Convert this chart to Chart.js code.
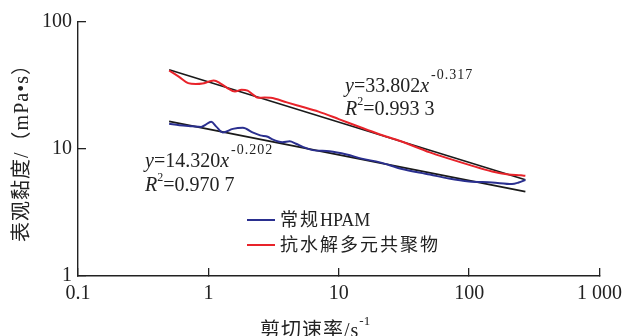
<!DOCTYPE html>
<html><head><meta charset="utf-8">
<script src="https://cdn.jsdelivr.net/npm/chart.js@4"></script>
<style>html,body{margin:0;padding:0;background:#fff}#wrap{width:623px;height:336px;position:relative}</style>
</head><body><div id="wrap"><canvas id="c" width="623" height="336"></canvas></div>
<script>
// ---- data ----
const seriesNames = ['常规HPAM', '抗水解多元共聚物'];
const hpamX = [0.5, 0.6, 0.75, 0.88, 0.95, 1.05, 1.15, 1.29, 1.54, 1.84, 2.18, 2.5, 2.85, 3.1, 3.7, 4.2, 4.7, 5.3, 6.3, 8.5, 11.5, 15, 20.7, 30, 50, 70, 100, 150, 213, 240, 270];
const hpamY = [15.8, 15.4, 15.1, 14.9, 15.5, 16.4, 15.0, 13.5, 14.4, 14.7, 13.5, 12.8, 12.5, 11.9, 11.3, 11.5, 11.0, 10.4, 9.8, 9.6, 9.06, 8.4, 7.85, 7.0, 6.3, 5.85, 5.55, 5.45, 5.3, 5.45, 5.7];
const copolyX = [0.5, 0.6, 0.7, 0.8, 0.9, 1.0, 1.1, 1.25, 1.4, 1.6, 1.8, 2.0, 2.2, 2.4, 2.7, 3, 4, 5, 7, 10, 15, 20, 30, 50, 70, 100, 150, 200, 250, 270];
const copolyY = [41.5, 36.8, 33.0, 32.5, 32.8, 33.8, 34.7, 32.6, 30.2, 28.4, 29.3, 28.8, 26.8, 25.3, 25.4, 25.3, 23.3, 21.8, 19.7, 17.2, 14.7, 13.2, 11.5, 9.4, 8.4, 7.5, 6.65, 6.3, 6.2, 6.15];
const fitX = [0.5, 270];
const hpamFitY = [16.5, 4.62];
const copolyFitY = [42.1, 5.73];
const xTickValues = [0.1, 1, 10, 100, 1000];
const xTickLabels = ['0.1', '1', '10', '100', '1 000'];
const yTickValues = [1, 10, 100];
const yTickLabels = ['1', '10', '100'];
const hpamEq = {coef: '14.320', exp: '-0.202', r2: '0.970 7'};
const copolyEq = {coef: '33.802', exp: '-0.317', r2: '0.993 3'};
const xTitle = '剪切速率/s', xTitleSup = '-1';
const yTitle = '表观黏度/（mPa•s）';

const BLUE = '#2a2f8f', RED = '#e8232a', INK = '#222';
const SERIF = "'Liberation Serif', 'Times New Roman', serif";
const CJK = "'Liberation Serif', 'Noto Sans CJK SC', sans-serif";

const pts = (xs, ys) => xs.map((x, i) => ({x: x, y: ys[i]}));

function drawEq(ctx, x, y, eq) {
  ctx.fillStyle = INK; ctx.textAlign = 'left'; ctx.textBaseline = 'alphabetic';
  let cx = x;
  ctx.font = 'italic 20px ' + SERIF; ctx.fillText('y', cx, y); cx += ctx.measureText('y').width;
  ctx.font = '20px ' + SERIF; const t = '=' + eq.coef; ctx.fillText(t, cx, y); cx += ctx.measureText(t).width;
  ctx.font = 'italic 20px ' + SERIF; ctx.fillText('x', cx, y); cx += ctx.measureText('x').width + 2;
  ctx.font = '14px ' + SERIF; ctx.letterSpacing = '1px'; ctx.fillText(eq.exp, cx, y - 13); ctx.letterSpacing = '0px';
  const y2 = y + 23.5; cx = x;
  ctx.font = 'italic 20px ' + SERIF; ctx.fillText('R', cx, y2); cx += ctx.measureText('R').width;
  ctx.font = '12px ' + SERIF; ctx.fillText('2', cx, y2 - 10); cx += ctx.measureText('2').width;
  ctx.font = '20px ' + SERIF; ctx.fillText('=' + eq.r2, cx, y2);
}

function drawMixed(ctx, text, x, y) {
  // CJK characters with slight letter spacing, latin tight
  let cx = x;
  const parts = text.match(/[\u3000-\u9fff\uff00-\uffef]+|[^\u3000-\u9fff\uff00-\uffef]+/g) || [];
  parts.forEach(p => {
    const isCJK = /[\u3000-\u9fff]/.test(p);
    ctx.letterSpacing = isCJK ? '2px' : '0px';
    ctx.fillText(p, cx, y);
    cx += ctx.measureText(p).width;
  });
  ctx.letterSpacing = '0px';
  return cx - x;
}

const textPlugin = {
  id: 'texts',
  afterDraw(chart) {
    const ctx = chart.ctx;
    ctx.save();
    drawEq(ctx, 345, 91.5, copolyEq);
    drawEq(ctx, 145, 167, hpamEq);
    // legend
    const lg = [[BLUE, seriesNames[0], 220], [RED, seriesNames[1], 245]];
    lg.forEach(([c, name, yy]) => {
      ctx.strokeStyle = c; ctx.lineWidth = 2;
      ctx.beginPath(); ctx.moveTo(247, yy); ctx.lineTo(275, yy); ctx.stroke();
      ctx.fillStyle = INK; ctx.font = '18px ' + CJK; ctx.textAlign = 'left'; ctx.textBaseline = 'middle';
      drawMixed(ctx, name, 280, yy + 1);
    });
    // y title
    ctx.save();
    ctx.translate(23, 148); ctx.rotate(-Math.PI / 2);
    ctx.font = '20px ' + CJK; ctx.textAlign = 'center'; ctx.textBaseline = 'middle'; ctx.fillStyle = INK;
    ctx.letterSpacing = '1px';
    ctx.fillText(yTitle, 0, 0);
    ctx.letterSpacing = '0px';
    ctx.restore();
    // x title
    ctx.font = '20px ' + CJK; ctx.textAlign = 'left'; ctx.textBaseline = 'alphabetic'; ctx.fillStyle = INK;
    ctx.letterSpacing = '1px'; ctx.fillText(xTitle, 260, 337); const w = ctx.measureText(xTitle).width; ctx.letterSpacing = '0px';
    ctx.font = '13px ' + SERIF; ctx.fillText(xTitleSup, 260 + w, 325);
    ctx.restore();
  }
};

function zeroPad(s) { s.paddingLeft = 0; s.paddingRight = 0; s.paddingTop = 0; s.paddingBottom = 0; }

new Chart(document.getElementById('c'), {
  type: 'line',
  data: {
    datasets: [
      {label: seriesNames[0], data: pts(hpamX, hpamY), borderColor: BLUE, borderWidth: 2, pointRadius: 0, cubicInterpolationMode: 'monotone'},
      {label: seriesNames[1], data: pts(copolyX, copolyY), borderColor: RED, borderWidth: 2, pointRadius: 0, cubicInterpolationMode: 'monotone'},
      {label: 'fit1', data: pts(fitX, copolyFitY), borderColor: '#1a1a1a', borderWidth: 1.6, pointRadius: 0},
      {label: 'fit2', data: pts(fitX, hpamFitY), borderColor: '#1a1a1a', borderWidth: 1.6, pointRadius: 0}
    ]
  },
  options: {
    responsive: false, devicePixelRatio: 1, animation: false,
    layout: {padding: {left: 0, top: 22, right: 23.5, bottom: 0}},
    plugins: {legend: {display: false}, tooltip: {enabled: false}},
    scales: {
      x: {
        type: 'logarithmic', min: 0.1, max: 1000,
        afterBuildTicks: s => { s.ticks = xTickValues.map(v => ({value: v})); },
        afterFit: s => { s.height = 60; zeroPad(s); },
        ticks: {
          callback: (v) => { const i = xTickValues.indexOf(v); return i >= 0 ? xTickLabels[i] : ''; },
          color: INK, font: {family: SERIF, size: 20}, padding: 14, maxRotation: 0, autoSkip: false
        },
        grid: {drawOnChartArea: false, tickLength: -8, color: INK, lineWidth: 1.3},
        border: {display: true, color: INK, width: 1.4}
      },
      y: {
        type: 'logarithmic', min: 1, max: 100,
        afterBuildTicks: s => { s.ticks = yTickValues.map(v => ({value: v})); },
        afterFit: s => { s.width = 78; zeroPad(s); },
        ticks: {
          callback: (v) => { const i = yTickValues.indexOf(v); return i >= 0 ? yTickLabels[i] : ''; },
          color: INK, font: {family: SERIF, size: 20}, padding: 14, autoSkip: false
        },
        grid: {drawOnChartArea: false, tickLength: -8, color: INK, lineWidth: 1.3},
        border: {display: true, color: INK, width: 1.4}
      }
    }
  },
  plugins: [textPlugin]
});
</script></body></html>
